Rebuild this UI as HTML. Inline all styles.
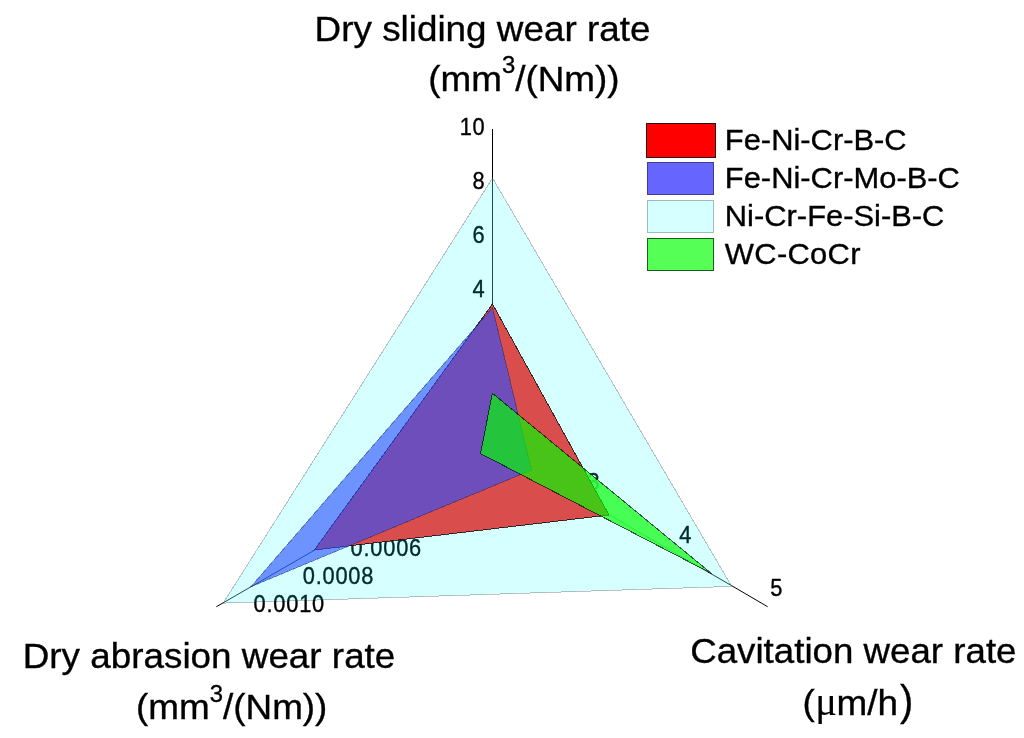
<!DOCTYPE html>
<html lang="en">
<head>
<meta charset="utf-8">
<title>Radar chart – wear rates</title>
<style>
  html, body { margin: 0; padding: 0; background: #ffffff; }
  body { width: 1024px; height: 738px; overflow: hidden; }
  svg { display: block; }
  text { font-family: "Liberation Sans", Arial, sans-serif; fill: #000; stroke: #000; stroke-width: 0.35px; font-kerning: none; }
  .title { font-size: 35.5px; }
  .tick { font-size: 23px; stroke-width: 0.2px; letter-spacing: 0.8px; }
  .leg { font-size: 29.8px; stroke-width: 0.25px; }
  .sym { font-family: "Liberation Serif", "DejaVu Serif", serif; }
</style>
</head>
<body>
<svg width="1024" height="738" viewBox="0 0 1024 738">
  <rect x="0" y="0" width="1024" height="738" fill="#ffffff"/>

  <!-- axes: black outside the outer series, slightly softer inside it -->
  <g stroke="#000" stroke-width="1" fill="none">
    <line x1="492.5" y1="129" x2="492.5" y2="178"/>
    <line x1="223.2" y1="602.8" x2="216.4" y2="606.7"/>
    <line x1="731.7" y1="585.7" x2="767.6" y2="606.7"/>
  </g>
  <g stroke="#262c2c" stroke-width="1" fill="none">
    <line x1="492.5" y1="178" x2="492.5" y2="447.5"/>
    <line x1="492.5" y1="447.5" x2="223.2" y2="602.8"/>
    <line x1="492.5" y1="447.5" x2="731.7" y2="585.7"/>
  </g>

  <!-- tick labels (drawn under the fills) -->
  <g class="tick">
    <text transform="translate(485.5 135) scale(0.95 1)" text-anchor="end">10</text>
    <text transform="translate(485.5 189) scale(0.95 1)" text-anchor="end">8</text>
    <text transform="translate(485.5 243) scale(0.95 1)" text-anchor="end" fill="#242c2c" stroke="none">6</text>
    <text transform="translate(485.5 296.5) scale(0.95 1)" text-anchor="end" fill="#242c2c" stroke="none">4</text>
    <text transform="translate(253.6 611.6) scale(0.95 1)">0.0010</text>
    <text transform="translate(302.8 584) scale(0.95 1)" fill="#242c2c" stroke="none">0.0008</text>
    <text transform="translate(350.6 556.3) scale(0.95 1)" fill="#242c2c" stroke="none">0.0006</text>
    <text transform="translate(770.2 596) scale(0.95 1)">5</text>
    <text transform="translate(679.2 542.5) scale(0.95 1)" fill="#242c2c" stroke="none">4</text>
    <text transform="translate(587.4 490) scale(0.95 1)" fill="#242c2c" stroke="none">3</text>
  </g>

  <!-- underlays: red series is opaque (hides axes/labels), green dims them -->
  <polygon points="492.5,304 609,515 314.4,550" fill="#ffffff"/>
  <polygon points="492.3,393.2 711.5,573.5 480.6,453.6" fill="rgba(255,255,255,0.62)"/>

  <g shape-rendering="crispEdges" stroke-width="1">
  <!-- Ni-Cr-Fe-Si-B-C -->
  <polygon points="492.5,178 731.7,586.4 223.2,603.1" fill="rgba(0,255,255,0.16)" stroke="rgba(0,0,0,0.24)"/>
  <!-- Fe-Ni-Cr-B-C -->
  <polygon points="492.5,304 609,515 314.4,550" fill="rgba(219,8,8,0.72)" stroke="rgba(0,0,0,0.75)"/>
  <!-- Fe-Ni-Cr-Mo-B-C -->
  <polygon points="492.5,307.6 531.5,470 250.8,586.8" fill="rgba(42,79,255,0.614)" stroke="rgba(0,20,60,0.35)"/>
  <!-- WC-CoCr -->
  <polygon points="492.3,393.2 711.5,573.5 480.6,453.6" fill="rgba(0,255,0,0.67)" stroke="rgba(0,0,0,0.65)"/>
  </g>

  <!-- legend -->
  <g stroke-width="1" shape-rendering="crispEdges">
    <rect x="646.5" y="123.5" width="69" height="34" fill="#ff0000" stroke="#2a1414"/>
    <rect x="647.5" y="162" width="66" height="32.5" fill="#6666ff" stroke="#3e3e96"/>
    <rect x="647.5" y="200.5" width="66" height="32" fill="#d6ffff" stroke="#9dbcbc"/>
    <rect x="647.5" y="238.5" width="66" height="32" fill="#55ff55" stroke="#1c5c1c"/>
  </g>
  <g class="leg">
    <text transform="translate(724.8 150.4) scale(1.037 1)">Fe-Ni-Cr-B-C</text>
    <text transform="translate(724.8 188.4) scale(1.037 1)">Fe-Ni-Cr-Mo-B-C</text>
    <text transform="translate(724.8 226.4) scale(1.037 1)">Ni-Cr-Fe-Si-B-C</text>
    <text transform="translate(724.8 264.4) scale(1.037 1)" letter-spacing="0.3">WC-CoCr</text>
  </g>

  <!-- axis titles -->
  <g class="title">
    <text transform="translate(314.6 40.6) scale(1.038 1)">Dry sliding wear rate</text>
    <text transform="translate(428.3 90.6) scale(1.038 1)">(mm<tspan dy="-17.5" font-size="23">3</tspan><tspan dy="17.5">/(Nm))</tspan></text>

    <text transform="translate(22.7 667.6) scale(1.038 1)">Dry abrasion wear rate</text>
    <text transform="translate(136.1 719) scale(1.038 1)">(mm<tspan dy="-17.5" font-size="23">3</tspan><tspan dy="17.5">/(Nm))</tspan></text>

    <text transform="translate(690.2 662.8) scale(1.034 1)">Cavitation wear rate</text>
    <text transform="translate(802.5 714.8) scale(1.038 1)">(<tspan class="sym" font-size="39" stroke-width="0.1" dx="0.5">μ</tspan><tspan dx="-0.5">m/h</tspan></text>
    <text transform="translate(900 714.8) scale(0.94 1)" font-size="42.3">)</text>
  </g>
</svg>
</body>
</html>
